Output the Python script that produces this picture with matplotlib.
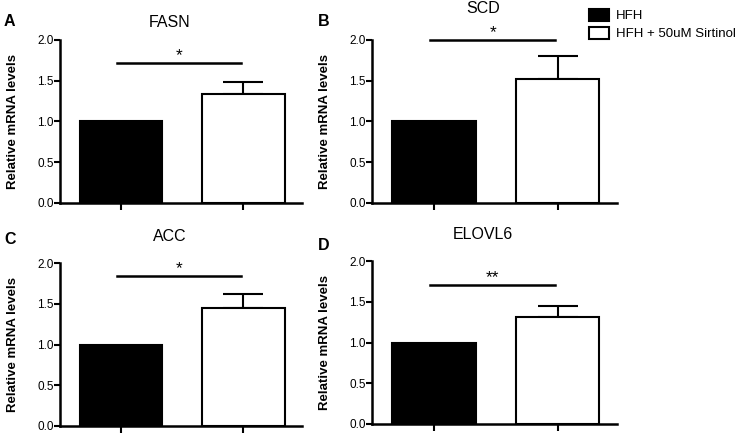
import matplotlib
matplotlib.use("Agg")
import matplotlib.pyplot as plt
from matplotlib.patches import Patch

plt.rcParams['font.family'] = ['Liberation Sans', 'DejaVu Sans']

genes = ["FASN", "SCD", "ACC", "ELOVL6"]
panel_letters = ["A", "B", "C", "D"]
groups = ["HFH", "HFH + 50uM Sirtinol"]
hfh_values = [1.0, 1.0, 1.0, 1.0]
sirtinol_values = [1.34, 1.52, 1.45, 1.31]
sirtinol_err = [0.14, 0.28, 0.17, 0.14]
sig_labels = ["*", "*", "*", "**"]
sig_heights = [1.72, 2.0, 1.84, 1.71]
title_heights = [2.21, 2.39, 2.32, 2.32]
yticks = [0.0, 0.5, 1.0, 1.5, 2.0]

W, H = 740, 433
fig = plt.figure(figsize=(7.4, 4.33), dpi=100)

# axes boxes in pixels: left, right, top, bottom
boxes = [(60, 302, 40, 203), (372, 617, 40, 203), (60, 302, 263, 426), (372, 617, 261, 424)]
letter_pos = [(4, 22), (318, 22), (4, 240), (318, 245)]

for i, gene in enumerate(genes):
    l, r, t, b = boxes[i]
    ax = fig.add_axes([l / W, 1 - b / H, (r - l) / W, (b - t) / H])
    x = [0, 1]
    ax.bar(0, hfh_values[i], width=0.675, color="black", edgecolor="black", linewidth=1.5, zorder=2)
    ax.bar(1, sirtinol_values[i], width=0.675, color="white", edgecolor="black", linewidth=1.5, zorder=2)
    ax.errorbar(1, sirtinol_values[i], yerr=[[0], [sirtinol_err[i]]], fmt="none",
                ecolor="black", elinewidth=1.5, capsize=14.4, capthick=1.5, zorder=1)
    ax.set_xlim(-0.5, 1.48)
    ax.set_ylim(0, 2.0)
    ax.set_yticks(yticks)
    ax.set_yticklabels([f"{v:.1f}" for v in yticks], fontsize=8.5)
    ax.set_xticks(x)
    ax.set_xticklabels(["", ""])
    ax.tick_params(axis="y", direction="out", length=4, width=1.5, pad=0.5, colors="black")
    ax.tick_params(axis="x", direction="out", length=5, width=1.5)
    for s in ["top", "right"]:
        ax.spines[s].set_visible(False)
    for s in ["left", "bottom"]:
        ax.spines[s].set_linewidth(1.8)
    ax.set_ylabel("Relative mRNA levels", fontsize=9.5, fontweight="bold")
    ax.yaxis.set_label_coords(-41 / (r - l), 0.5)
    # significance bar
    ax.plot([-0.03, 0.98], [sig_heights[i], sig_heights[i]], color="black", lw=1.8, clip_on=False)
    ax.annotate(sig_labels[i], xy=(0.475, sig_heights[i]), xytext=(0, 0), textcoords="offset points",
                ha="center", va="bottom", fontsize=12.5, annotation_clip=False)
    ax.text(0.4, title_heights[i], gene, ha="center", va="center", fontsize=11.5, clip_on=False)
    lx, ly = letter_pos[i]
    fig.text(lx / W, 1 - ly / H, panel_letters[i], fontsize=11.5, fontweight="bold", ha="left", va="center")

handles = [Patch(facecolor="black", edgecolor="black", linewidth=1.5),
           Patch(facecolor="white", edgecolor="black", linewidth=1.5)]
fig.legend(handles, groups, loc="upper left", bbox_to_anchor=(589 / W, 1 - 9 / H), frameon=False,
           fontsize=9.5, handlelength=1.55, handleheight=1.0, handletextpad=0.5, labelspacing=0.35,
           borderaxespad=0, borderpad=0.0)

fig.savefig("out.png", dpi=100)
